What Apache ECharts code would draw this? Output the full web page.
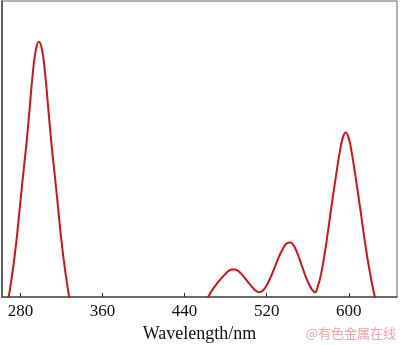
<!DOCTYPE html>
<html>
<head>
    <meta charset="utf-8">
    <script src="https://cdn.jsdelivr.net/npm/echarts@6/dist/echarts.min.js"></script>
</head>
<body style="margin:0">
    <div id="main" style="width:400px; height:345px;"></div>
</body>
	<script type="text/javascript">
		// spectrum, x in nm, y in arbitrary units (0..100 = plot height)
		var wavelength = [259, 262, 265, 268, 271, 274, 277, 280, 283, 286, 289, 292, 295, 298, 301, 304, 307, 310, 313, 316, 319, 322, 325, 328, 331, 334, 338,
			400, 453, 456, 459, 462, 465, 468, 471, 474, 477, 480, 483, 486, 489, 492, 495, 498, 501, 504, 507, 510, 513, 516, 519, 522, 525, 528, 531, 534, 537, 540, 543, 546, 549, 552, 555, 558, 561, 564, 567,
			570, 573, 576, 579, 582, 585, 588, 591, 594, 597, 600, 603, 606, 609, 612, 615, 618, 621, 624, 627, 630, 633, 650];
		var intensity = [-6, -6, -4.5, -0.8, 5.5, 13, 22, 32.5, 42.5, 52.5, 64, 75.5, 83.5, 86.2, 83.5, 75.5, 64, 52.5, 42.5, 32.5, 22, 13, 5.5, -0.8, -4.5, -6, -6,
			-6, -6, -4.5, -2.5, -0.5, 1.3, 2.9, 4.3, 5.6, 6.8, 7.9, 8.8, 9.3, 9.3, 8.8, 7.9, 6.7, 5.4, 4.1, 2.9, 2, 1.6, 2.1, 3.4, 5.3, 7.6, 10.2, 12.8, 15.1, 17, 18.2, 18.4, 17.5, 15.5, 12.8, 9.8, 6.9, 4.5, 2.6, 1.6,
			3.8, 7.8, 13.5, 20.4, 27.8, 35, 42, 48.5, 53.6, 55.6, 53.6, 48.5, 42, 35, 27.8, 20.4, 13.5, 7.5, 2.2, -2, -4.8, -6, -6];
		var tickValues = [280, 360, 440, 520, 600];

		var points = [];
		for (var i = 0; i < wavelength.length; i++) {
			points.push([wavelength[i], intensity[i]]);
		}

        var myChart = echarts.init(document.getElementById('main'));
      	option = {
			animation: false,
			grid: {
				left: 2, right: 3, top: 1, bottom: 48,
				outerBoundsMode: 'none',
				show: true,
				borderColor: '#666',
				borderWidth: 1
			},
			xAxis: {
				type: 'value',
				min: 262,
				max: 647,
				name: 'Wavelength/nm',
				nameLocation: 'middle',
				nameGap: 24,
				nameTextStyle: { fontFamily: 'Liberation Serif', fontSize: 18, color: '#111' },
				axisLine: { lineStyle: { color: '#555', width: 1.5 } },
				axisTick: { inside: true, length: 4, customValues: tickValues, lineStyle: { color: '#333' } },
				axisLabel: { customValues: tickValues, margin: 6, fontFamily: 'Liberation Serif', fontSize: 17, color: '#111' },
				splitLine: { show: false }
			},
			yAxis: {
				type: 'value',
				min: 0,
				max: 100,
				axisLine: { show: true, lineStyle: { color: '#444', width: 1.5 } },
				axisTick: { show: false },
				axisLabel: { show: false },
				splitLine: { show: false }
			},
			series: [{
				data: points,
				type: 'line',
				smooth: 0.5,
				symbol: 'none',
				clip: true,
				lineStyle: { color: '#d0121b', width: 2 }
			}],
			graphic: [{
				type: 'text',
				right: 4,
				bottom: 5,
				style: { text: '@有色金属在线', fill: '#f2a3a8', font: '13px "Noto Sans CJK SC"' }
			}]
		};
        myChart.setOption(option);
    </script>
</html>
